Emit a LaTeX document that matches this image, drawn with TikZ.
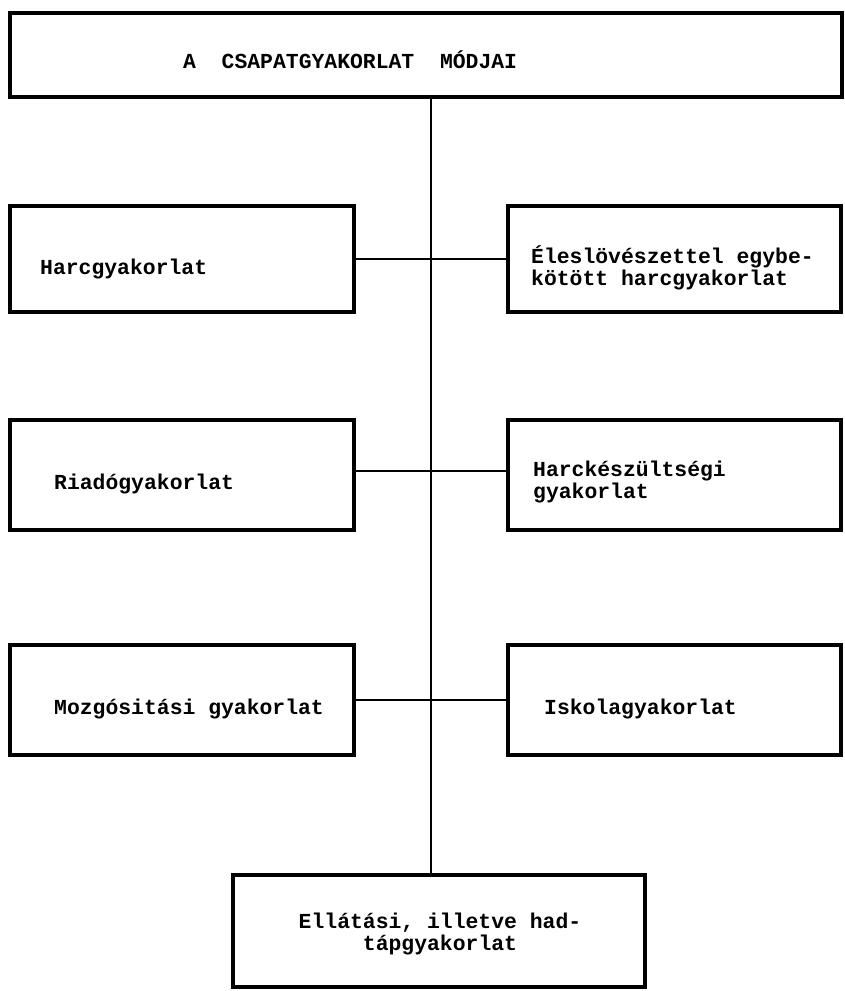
\documentclass[tikz,border=0pt]{standalone}
\usepackage{fontspec}
\setmainfont{Liberation Mono}[BoldFont={Liberation Mono Bold}]
\tikzset{
  box/.style={draw=black, line width=3.4pt, rectangle, inner sep=0pt, minimum width=#1},
  link/.style={draw=black, line width=1.8pt},
  lbl/.style={inner sep=0pt, font=\fontsize{21.4}{22}\selectfont\bfseries, text=black},
}
\begin{document}
\begin{tikzpicture}[x=1pt, y=-1pt]
\useasboundingbox (0,0) rectangle (845,991);
% boxes
\node[box=832, minimum height=84] (top) at (426,55) {};
\node[box=344, minimum height=106] (L1) at (182,259) {};
\node[box=333, minimum height=106] (R1) at (674.5,259) {};
\node[box=344, minimum height=110] (L2) at (182,475) {};
\node[box=333, minimum height=110] (R2) at (674.5,475) {};
\node[box=344, minimum height=110] (L3) at (182,700) {};
\node[box=333, minimum height=110] (R3) at (674.5,700) {};
\node[box=412, minimum height=112] (bot) at (439,931) {};
% spine
\coordinate (sx) at (431,0);
\draw[link] (top.south -| sx) -- (bot.north -| sx);
\draw[link] (L1.east) -- (R1.west);
\draw[link] ([yshift=4pt]L2.east) -- ([yshift=4pt]R2.west);
\draw[link] (L3.east) -- (R3.west);
% texts
\node[lbl, anchor=base west] (ttop) at (183,68) {A\ \ CSAPATGYAKORLAT\ \ MÓDJAI};
\node[lbl, anchor=base west] (tL1) at (40,274) {Harcgyakorlat};
\node[lbl, anchor=base west, align=left] (tR1) at (531,285) {Éleslövészettel egybe-\\kötött harcgyakorlat};
\node[lbl, anchor=base west] (tL2) at (54,489) {Riadógyakorlat};
\node[lbl, anchor=base west, align=left] (tR2) at (533,498) {Harckészültségi\\gyakorlat};
\node[lbl, anchor=base west] (tL3) at (54,714) {Mozgósitási gyakorlat};
\node[lbl, anchor=base west] (tR3) at (544,714) {Iskolagyakorlat};
\node[lbl, anchor=base, align=center] (tbot) at (440,950) {Ellátási, illetve had-\\tápgyakorlat};
\end{tikzpicture}
\end{document}
